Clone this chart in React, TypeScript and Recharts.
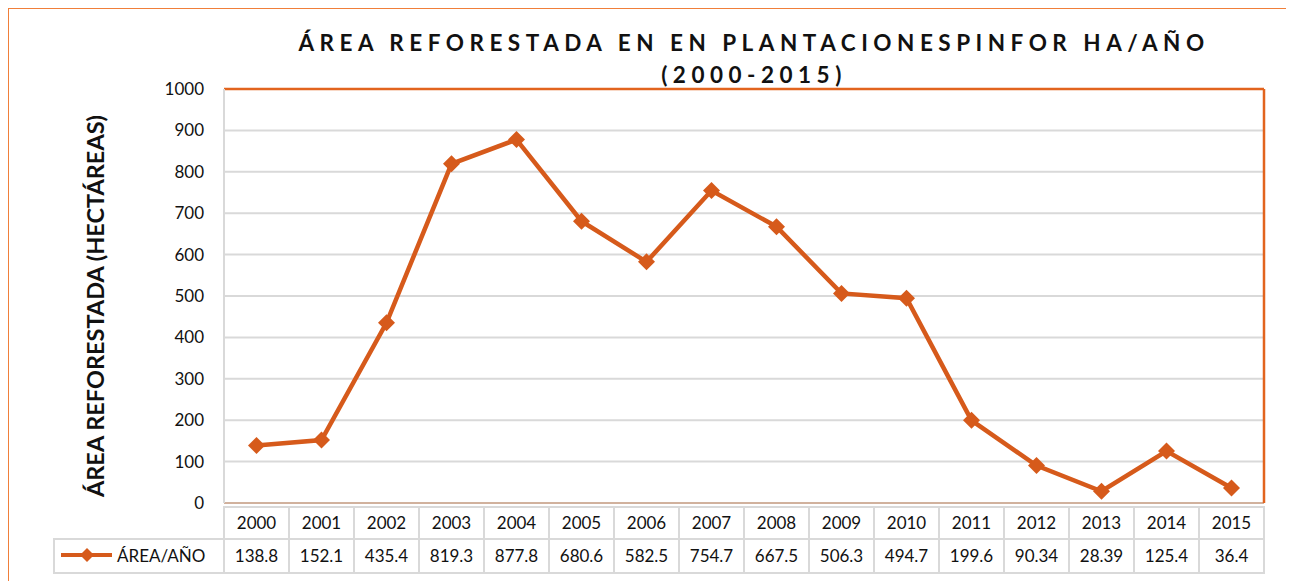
import React from "react";
import { LineChart, Line, XAxis, YAxis, CartesianGrid, ReferenceLine } from "recharts";

const years = ["2000","2001","2002","2003","2004","2005","2006","2007","2008","2009","2010","2011","2012","2013","2014","2015"];
const areas = [138.8,152.1,435.4,819.3,877.8,680.6,582.5,754.7,667.5,506.3,494.7,199.6,90.34,28.39,125.4,36.4];
const yTicks = [0,100,200,300,400,500,600,700,800,900,1000];
const seriesName = "ÁREA/AÑO";
const titleLine1 = "ÁREA REFORESTADA EN EN PLANTACIONESPINFOR HA/AÑO";
const titleLine2 = "(2000-2015)";
const yLabel = "ÁREA REFORESTADA (HECTÁREAS)";

const data = years.map((y, i) => ({ year: y, value: areas[i] }));

const LINE = "#D65A1B";
const BORDER = "#E2641E";
const OUTER = "#F07F3A";
const GRID = "#D9D9D9";
const FONT = "Lato, 'Open Sans', sans-serif";

const CELL_W = 65;
const ROW1_H = 32;
const ROW2_H = 34;
const LEGEND_W = 170;

const Diamond = (props: any) => {
  const { cx, cy } = props;
  if (cx == null || cy == null) return null;
  const r = 8.5;
  return <polygon points={`${cx},${cy - r} ${cx + r},${cy} ${cx},${cy + r} ${cx - r},${cy}`} fill={LINE} />;
};

const TableTick = (props: any) => {
  const { x, y, payload, index } = props;
  const i = payload && payload.index != null ? payload.index : index;
  const left = x - CELL_W / 2;
  const top = y + 2;
  const vtop = top + ROW1_H;
  return (
    <g>
      <rect x={left} y={top} width={CELL_W} height={ROW1_H} fill="none" stroke={GRID} strokeWidth={2} />
      <text x={x} y={top + ROW1_H / 2 + 6} textAnchor="middle" fontFamily={FONT} fontSize={17} fill="#111">{years[i]}</text>
      <rect x={left} y={vtop} width={CELL_W} height={ROW2_H} fill="none" stroke={GRID} strokeWidth={2} />
      <text x={x} y={vtop + ROW2_H / 2 + 6} textAnchor="middle" fontFamily={FONT} fontSize={17} fill="#111">{String(areas[i])}</text>
      {i === 0 && (
        <g>
          <rect x={left - LEGEND_W} y={vtop} width={LEGEND_W} height={ROW2_H} fill="none" stroke={GRID} strokeWidth={2} />
          <line x1={left - LEGEND_W + 7} x2={left - LEGEND_W + 58} y1={vtop + ROW2_H / 2 - 1} y2={vtop + ROW2_H / 2 - 1} stroke={LINE} strokeWidth={4} />
          <polygon
            points={`${left - LEGEND_W + 33},${vtop + ROW2_H / 2 - 8} ${left - LEGEND_W + 40},${vtop + ROW2_H / 2 - 1} ${left - LEGEND_W + 33},${vtop + ROW2_H / 2 + 6} ${left - LEGEND_W + 26},${vtop + ROW2_H / 2 - 1}`}
            fill={LINE}
          />
          <text x={left - LEGEND_W + 63} y={vtop + ROW2_H / 2 + 6} fontFamily={FONT} fontSize={17} fill="#111">{seriesName}</text>
        </g>
      )}
    </g>
  );
};

const YLabel = (props: any) => {
  const vb = props.viewBox || {};
  const cx = (vb.x || 0) + 86;
  const cy = 297;
  return (
    <text x={cx} y={cy} transform={`rotate(-90 ${cx} ${cy})`} textAnchor="middle" dominantBaseline="central" fontFamily={FONT} fontWeight={700} fontSize={23.5} fill="#111">
      {yLabel}
    </text>
  );
};

export default function App() {
  return (
    <div style={{ position: "relative", width: 1284, height: 580, border: `1px solid ${OUTER}`, background: "#fff" }}>
      <div
        style={{
          position: "absolute",
          left: 245,
          top: 18,
          width: 1000,
          textAlign: "center",
          fontFamily: FONT,
          fontWeight: 700,
          fontSize: 22.5,
          letterSpacing: 5.5,
          lineHeight: "32px",
          color: "#111",
        }}
      >
        <div>{titleLine1}</div>
        <div>{titleLine2}</div>
      </div>
      <LineChart width={1284} height={572} data={data} margin={{ top: 80, right: 28, left: 0, bottom: 0 }}>
        <CartesianGrid vertical={false} stroke={GRID} strokeWidth={2} />
        <XAxis
          dataKey="year"
          height={78}
          padding={{ left: CELL_W / 2, right: CELL_W / 2 }}
          axisLine={{ stroke: "#C98A63", strokeWidth: 1 }}
          tickLine={false}
          tickSize={0}
          tick={<TableTick />}
          interval={0}
        />
        <YAxis
          width={215}
          domain={[0, 1000]}
          ticks={yTicks}
          interval={0}
          axisLine={{ stroke: GRID, strokeWidth: 2 }}
          tickLine={false}
          tickSize={0}
          tickMargin={20}
          tick={{ fontFamily: FONT, fontSize: 17, fill: "#111" }}
          label={<YLabel />}
        />
        <YAxis yAxisId="r" orientation="right" width={1} domain={[0, 1000]} ticks={[0, 1000]} tick={false} tickLine={false} axisLine={{ stroke: BORDER, strokeWidth: 2.5 }} />
        <ReferenceLine y={1000} stroke={BORDER} strokeWidth={2.5} />
        <Line
          type="linear"
          dataKey="value"
          stroke={LINE}
          strokeWidth={4.5}
          dot={<Diamond />}
          activeDot={false}
          isAnimationActive={false}
        />
      </LineChart>
    </div>
  );
}
